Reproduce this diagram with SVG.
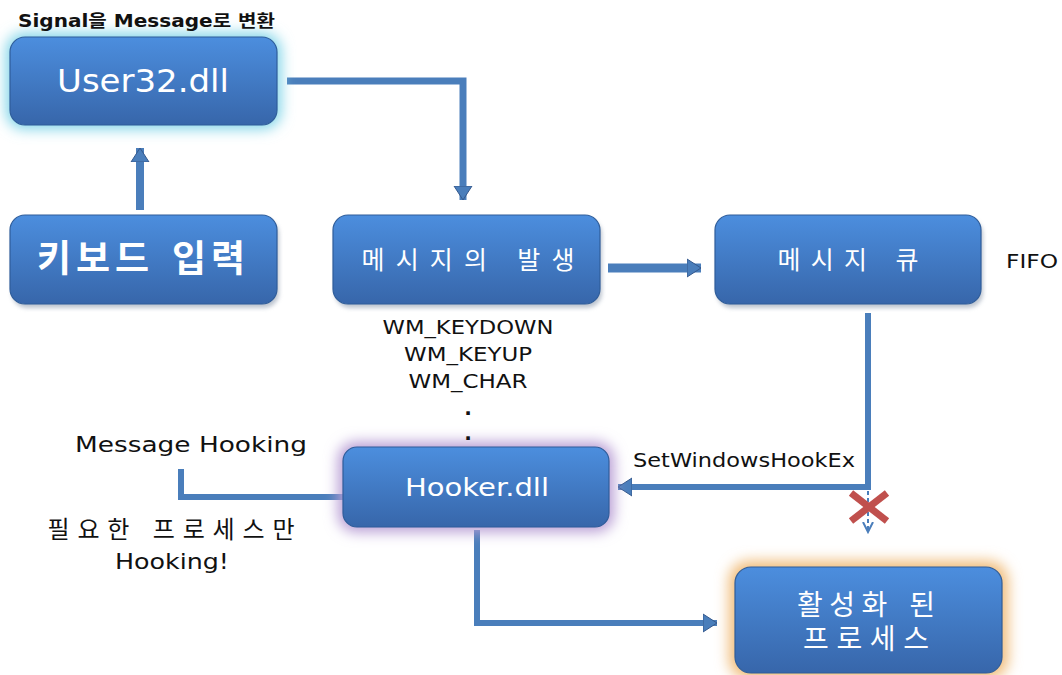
<svg xmlns="http://www.w3.org/2000/svg" width="1062" height="675" viewBox="0 0 1062 675">
<style>
.box{fill:url(#bg);stroke:#2f5d9a;stroke-width:1.2}
.bt{font-family:"DejaVu Sans","Noto Sans CJK KR",sans-serif;fill:#ffffff;text-anchor:middle}
.lbl{font-family:"DejaVu Sans","Noto Sans CJK KR",sans-serif;fill:#111111}
.con{fill:none;stroke:#4a7ebb;stroke-linejoin:miter}
</style>
<defs>
<linearGradient id="bg" x1="0" y1="0" x2="0" y2="1">
<stop offset="0" stop-color="#4c8ede"/>
<stop offset="1" stop-color="#3766aa"/>
</linearGradient>
<filter id="glow" x="-20%" y="-40%" width="140%" height="180%"><feGaussianBlur stdDeviation="7"/></filter>
<filter id="sh" x="-10%" y="-10%" width="120%" height="130%"><feGaussianBlur stdDeviation="2"/></filter>
<marker id="ah" markerUnits="userSpaceOnUse" markerWidth="16" markerHeight="20" refX="14" refY="10" orient="auto"><path d="M0,1 L14,10 L0,19 Z" fill="#4a7ebb" stroke="#35598c" stroke-width="1"/></marker>
<marker id="ahs" markerUnits="userSpaceOnUse" markerWidth="12" markerHeight="12" refX="10" refY="6" orient="auto"><path d="M0,1 L10,6 L0,11" fill="none" stroke="#4a7ebb" stroke-width="2"/></marker>
</defs>
<rect width="1062" height="675" fill="#ffffff"/>

<g id="connectors">
<path class="con" d="M287,81 H463 V200" stroke-width="7" marker-end="url(#ah)"/>
<path class="con" d="M140,210 V148" stroke-width="8" marker-end="url(#ah)"/>
<path class="con" d="M608,268 H701" stroke-width="9" marker-end="url(#ah)"/>
<path class="con" d="M868,313 V487 H618" stroke-width="6" marker-end="url(#ah)"/>
<path class="con" d="M343,497 H181 V469" stroke-width="6"/>
<path class="con" d="M477,530 V623 H717" stroke-width="6" marker-end="url(#ah)"/>
<path class="con" d="M868,491 V532" stroke-width="2" stroke-dasharray="4,3" marker-end="url(#ahs)"/>
<g id="cross" stroke="#c0504d" stroke-width="7" stroke-linecap="butt">
<line x1="851" y1="493" x2="887" y2="521"/>
<line x1="887" y1="493" x2="851" y2="521"/>
</g>
</g>

<g id="user32">
<rect x="6" y="33" width="275" height="96" rx="18" fill="#7fd4e8" filter="url(#glow)"/>
<rect class="box" x="10" y="37" width="267" height="88" rx="15"/>
<text class="bt" x="143" y="92" font-size="32" textLength="172" lengthAdjust="spacingAndGlyphs">User32.dll</text>
</g>

<g id="keyboard">
<rect x="12" y="219" width="267" height="89" rx="15" fill="#7a8aa0" opacity="0.5" filter="url(#sh)"/>
<rect class="box" x="10" y="215" width="267" height="89" rx="15"/>
<text class="bt" x="141" y="272" font-size="37" font-weight="bold" textLength="208">키보드 입력</text>
</g>

<g id="msggen">
<rect x="335" y="219" width="267" height="89" rx="15" fill="#7a8aa0" opacity="0.5" filter="url(#sh)"/>
<rect class="box" x="333" y="215" width="267" height="89" rx="15"/>
<text class="bt" x="468" y="269" font-size="25" textLength="213">메시지의 발생</text>
</g>

<g id="msgqueue">
<rect x="717" y="219" width="266" height="89" rx="15" fill="#7a8aa0" opacity="0.5" filter="url(#sh)"/>
<rect class="box" x="715" y="215" width="266" height="89" rx="15"/>
<text class="bt" x="848" y="269" font-size="25" textLength="141">메시지 큐</text>
</g>

<g id="hooker">
<rect x="338" y="442" width="276" height="90" rx="18" fill="#b79cd4" filter="url(#glow)"/>
<rect class="box" x="343" y="447" width="266" height="80" rx="14"/>
<text class="bt" x="477" y="496" font-size="25" textLength="144" lengthAdjust="spacingAndGlyphs">Hooker.dll</text>
</g>

<g id="active">
<rect x="729" y="561" width="279" height="118" rx="20" fill="#f0bb78" filter="url(#glow)"/>
<rect class="box" x="735" y="567" width="267" height="106" rx="16"/>
<text class="bt" x="866" y="615" font-size="28" textLength="138">활성화 된</text>
<text class="bt" x="866" y="649" font-size="28" textLength="126">프로세스</text>
</g>

<g id="labels">
<text class="lbl" x="18" y="27" font-size="17" font-weight="bold" textLength="257" lengthAdjust="spacingAndGlyphs">Signal을 Message로 변환</text>
<text class="lbl" x="1006" y="268" font-size="20" textLength="52" lengthAdjust="spacingAndGlyphs">FIFO</text>
<text class="lbl" x="468" y="334" font-size="20" text-anchor="middle" textLength="171" lengthAdjust="spacingAndGlyphs">WM_KEYDOWN</text>
<text class="lbl" x="468" y="361" font-size="20" text-anchor="middle" textLength="128" lengthAdjust="spacingAndGlyphs">WM_KEYUP</text>
<text class="lbl" x="468" y="388" font-size="20" text-anchor="middle" textLength="119" lengthAdjust="spacingAndGlyphs">WM_CHAR</text>
<text class="lbl" x="468" y="415" font-size="20" font-weight="bold" text-anchor="middle">.</text>
<text class="lbl" x="468" y="440" font-size="20" font-weight="bold" text-anchor="middle">.</text>
<text class="lbl" x="191" y="452" font-size="21" text-anchor="middle" textLength="232" lengthAdjust="spacingAndGlyphs">Message Hooking</text>
<text class="lbl" x="171" y="538" font-size="24" text-anchor="middle" textLength="247">필요한 프로세스만</text>
<text class="lbl" x="172" y="569" font-size="21" text-anchor="middle" textLength="114" lengthAdjust="spacingAndGlyphs">Hooking!</text>
<text class="lbl" x="633" y="467" font-size="19" textLength="222" lengthAdjust="spacingAndGlyphs">SetWindowsHookEx</text>
</g>
</svg>
